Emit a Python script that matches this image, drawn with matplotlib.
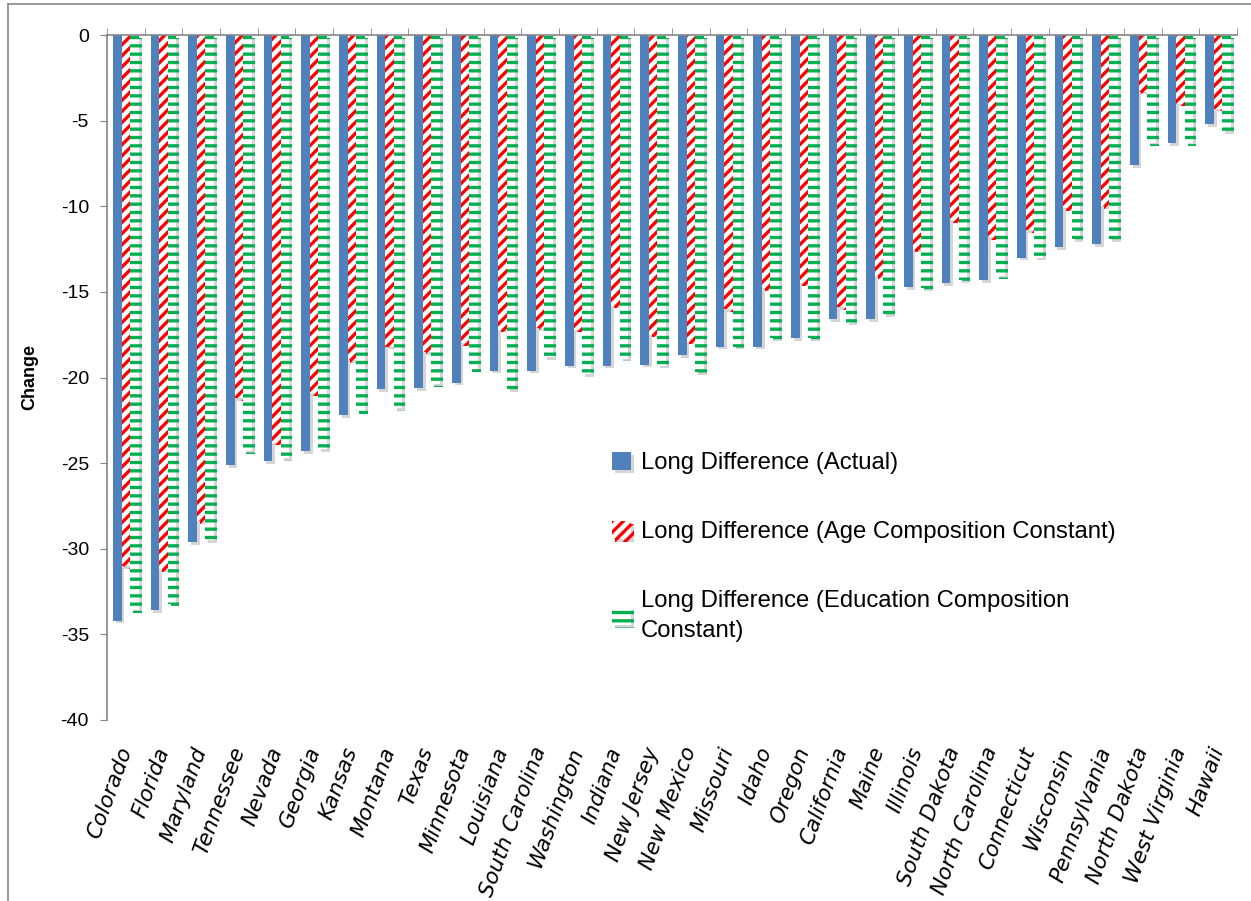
import numpy as np
import matplotlib
matplotlib.use("Agg")
import matplotlib.pyplot as plt
import matplotlib.patheffects as pe
from matplotlib.lines import Line2D

states = ["Colorado", "Florida", "Maryland", "Tennessee", "Nevada", "Georgia", "Kansas",
          "Montana", "Texas", "Minnesota", "Louisiana", "South Carolina", "Washington",
          "Indiana", "New Jersey", "New Mexico", "Missouri", "Idaho", "Oregon", "California",
          "Maine", "Illinois", "South Dakota", "North Carolina", "Connecticut", "Wisconsin",
          "Pennsylvania", "North Dakota", "West Virginia", "Hawaii"]
actual = [-34.2, -33.6, -29.6, -25.1, -24.9, -24.3, -22.2, -20.7, -20.6, -20.3, -19.6, -19.6,
          -19.3, -19.3, -19.25, -18.7, -18.2, -18.2, -17.7, -16.6, -16.6, -14.7, -14.5, -14.3,
          -13.0, -12.4, -12.2, -7.6, -6.3, -5.2]
age_const = [-31.0, -31.2, -28.4, -21.2, -23.8, -20.9, -19.0, -18.2, -18.5, -18.0, -17.2, -17.1,
             -17.2, -15.8, -17.5, -17.9, -16.0, -14.8, -14.5, -15.9, -14.1, -12.5, -10.8, -11.8,
             -11.4, -10.1, -10.0, -3.3, -4.0, -4.3]
edu_const = [-33.6, -33.2, -29.5, -24.3, -24.7, -24.2, -21.95, -21.8, -20.4, -19.5, -20.7, -18.8,
             -19.8, -18.9, -19.3, -19.7, -18.2, -17.7, -17.7, -16.8, -16.3, -14.8, -14.3, -14.1,
             -13.0, -11.9, -11.9, -6.3, -6.3, -5.6]
labels = ["Long Difference (Actual)",
          "Long Difference (Age Composition Constant)",
          "Long Difference (Education Composition\nConstant)"]

plt.rcParams["hatch.linewidth"] = 2.4
plt.rcParams["axes.unicode_minus"] = False
plt.rcParams["font.family"] = ["Liberation Sans", "DejaVu Sans"]

W, H = 1251, 901
fig = plt.figure(figsize=(W / 100, H / 100), dpi=100)
ax = fig.add_axes([107 / W, 1 - 720 / H, (1237 - 107) / W, (720 - 35) / H])

x = np.arange(len(states))
w = 0.23
shadow = [pe.SimplePatchShadow(offset=(2, -2), shadow_rgbFace="#888888", alpha=0.35), pe.Normal()]

b1 = ax.bar(x - w, actual, w, color="#4F81BD", linewidth=0, label=labels[0])
b2 = ax.bar(x, age_const, w, facecolor="white", edgecolor="#FF0000", hatch="///",
            linewidth=0, label=labels[1])
b3 = ax.bar(x + w, edu_const, w, facecolor="white", edgecolor="#00B050", hatch="--",
            linewidth=0, label=labels[2])
for bars in (b1, b2, b3):
    for p in bars:
        p.set_path_effects(shadow)

ax.set_xlim(-0.5, len(states) - 0.5)
ax.set_ylim(-40, 0)
ax.set_yticks(np.arange(-40, 1, 5))
ax.tick_params(axis="y", direction="out", length=5, color="#868686", labelsize=14, pad=8)

ax.set_xticks(x)
ax.set_xticklabels(states, rotation=70, ha="right", va="center", rotation_mode="anchor",
                   fontsize=15.5, style="italic", family=["DejaVu Sans"])
ax.tick_params(axis="x", which="major", length=0, pad=20, bottom=True, top=False)
ax.set_xticks(np.arange(-0.5, len(states), 1), minor=True)
ax.tick_params(axis="x", which="minor", top=True, bottom=False, direction="out",
               length=5, color="#868686")

for s in ("right", "bottom"):
    ax.spines[s].set_visible(False)
for s in ("left", "top"):
    ax.spines[s].set_color("#868686")
    ax.spines[s].set_linewidth(1.2)

ax.set_ylabel("Change", fontsize=13, fontweight="bold", labelpad=16)

leg = ax.legend(loc="upper left", bbox_to_anchor=(612 / W, 1 - 452 / H),
                bbox_transform=fig.transFigure, frameon=False, fontsize=17.2,
                borderpad=0, borderaxespad=0,
                handlelength=0.8, handleheight=0.8, handletextpad=0.4, labelspacing=1.95)
leg.get_texts()[2].set_linespacing(1.45)

# chart border
fig.add_artist(Line2D([8 / W, 8 / W], [0, 1 - 4 / H], transform=fig.transFigure,
                      color="#868686", lw=1.2))
fig.add_artist(Line2D([8 / W, 1], [1 - 4 / H, 1 - 4 / H], transform=fig.transFigure,
                      color="#868686", lw=1.2))

fig.savefig("out.png", dpi=100)
